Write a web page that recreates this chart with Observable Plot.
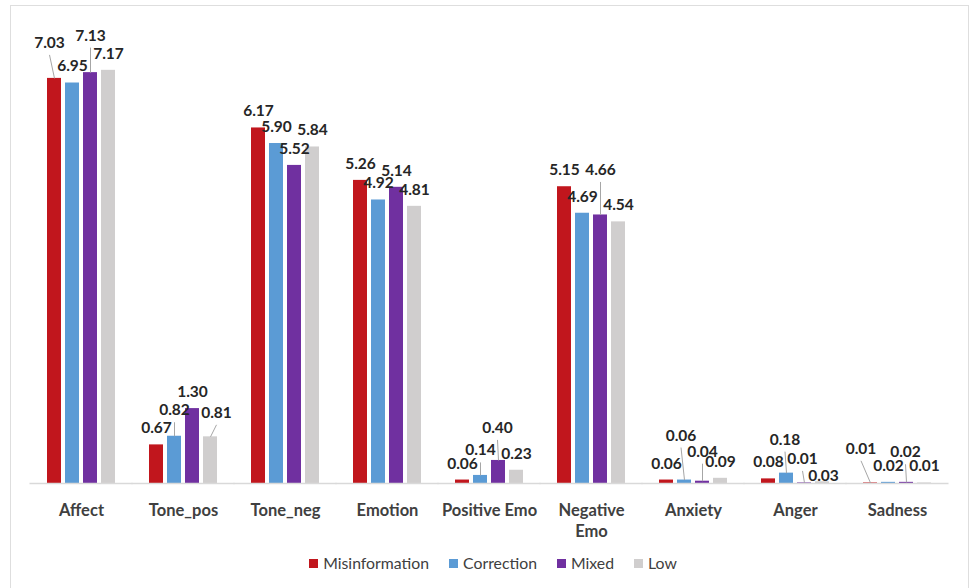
<!DOCTYPE html>
<html>
<head>
<meta charset="utf-8">
<script src="https://cdn.jsdelivr.net/npm/d3@7"></script>
<script src="https://cdn.jsdelivr.net/npm/@observablehq/plot@0.6"></script>
<style>
  html, body { margin: 0; padding: 0; background: #fff; }
  #wrap { position: relative; width: 970px; height: 588px; overflow: hidden; font-family: Lato, "Open Sans", sans-serif; }
  #frame { position: absolute; left: 10px; top: 4.5px; width: 959px; height: 620px; border: 1.5px solid #dedede; box-sizing: border-box; pointer-events: none; }
  #chart { position: absolute; left: 0; top: 0; }
  #legend { position: absolute; left: 0; top: 553px; width: 986px; display: flex; justify-content: center; gap: 20px; font-size: 15.8px; color: #404040; line-height: 20px; }
  #legend .item { display: flex; align-items: center; gap: 5px; }
  #legend .sw { width: 9px; height: 9px; display: inline-block; }
</style>
</head>
<body>
<div id="wrap">
  <div id="chart"></div>
  <div id="legend"></div>
  <div id="frame"></div>
</div>
<script>
// LIWC emotion categories and the four content groups
const categories = ["Affect", "Tone_pos", "Tone_neg", "Emotion", "Positive Emo", "Negative Emo", "Anxiety", "Anger", "Sadness"];
const categoryLabels = ["Affect", "Tone_pos", "Tone_neg", "Emotion", "Positive Emo", "Negative\nEmo", "Anxiety", "Anger", "Sadness"];
const series = ["Misinformation", "Correction", "Mixed", "Low"];
const colors = ["#C1161D", "#5B9BD5", "#7030A0", "#D0CECE"];

const misinformation = [7.03, 0.67, 6.17, 5.26, 0.06, 5.15, 0.06, 0.08, 0.01];
const correction     = [6.95, 0.82, 5.90, 4.92, 0.14, 4.69, 0.06, 0.18, 0.02];
const mixed          = [7.13, 1.30, 5.52, 5.14, 0.40, 4.66, 0.04, 0.01, 0.02];
const low            = [7.17, 0.81, 5.84, 4.81, 0.23, 4.54, 0.09, 0.03, 0.01];

const seriesValues = [misinformation, correction, mixed, low];
const rows = categories.flatMap((category, i) =>
  series.map((s, j) => ({category, series: s, value: seriesValues[j][i]}))
);

// Value labels sit just above their bar; crowded ones are nudged (pixels) and get a leader line
const lift = 16.5;
const labelNudges = [
  ["Affect", "Misinformation", -5, -19],
  ["Affect", "Mixed", 0, -20.5],
  ["Tone_pos", "Correction", 0, -9.5],
  ["Tone_pos", "Low", 6, -7.5],
  ["Positive Emo", "Correction", 0, -8.5],
  ["Positive Emo", "Mixed", -1, -16],
  ["Negative Emo", "Mixed", 0, -28.5],
  ["Anxiety", "Correction", -3.5, -28],
  ["Anxiety", "Mixed", 0, -13],
  ["Anger", "Correction", -1.5, -17],
  ["Anger", "Mixed", -2, -7.5],
  ["Anger", "Low", 1, 11],
  ["Sadness", "Misinformation", -9.5, -17.6],
  ["Sadness", "Mixed", -1, -13.6]
];
const key = (d) => d.category + "|" + d.series;
const nudgeOf = new Map(labelNudges.map(([c, s, dx, dy]) => [c + "|" + s, {dx, dy}]));
const leaderRows = rows.filter((d) => nudgeOf.has(key(d)) && nudgeOf.get(key(d)).dy < -5);

function placeLabels(index, scales, values, dimensions, context, next) {
  const X = Float64Array.from(values.x), Y = Float64Array.from(values.y);
  for (const i of index) {
    const n = nudgeOf.get(key(rows[i]));
    if (n) { X[i] += n.dx; Y[i] += n.dy; }
  }
  return next(index, scales, {...values, x: X, y: Y}, dimensions, context);
}

function placeLeaders(index, scales, values, dimensions, context, next) {
  const X2 = Float64Array.from(values.x2), Y2 = Float64Array.from(values.y2);
  for (const i of index) {
    const n = nudgeOf.get(key(leaderRows[i]));
    X2[i] += n.dx;
    Y2[i] += -lift + n.dy + 12;
  }
  return next(index, scales, {...values, x2: X2, y2: Y2}, dimensions, context);
}

const chart = Plot.plot({
  width: 970,
  height: 545,
  marginLeft: 28,
  marginRight: 19,
  marginTop: 22,
  marginBottom: 62,
  style: {fontFamily: "Lato, 'Open Sans', sans-serif", background: "transparent"},
  fx: {domain: categories, paddingInner: 0.31, paddingOuter: 0.165, axis: null, label: null},
  x: {domain: series, paddingInner: 0.25, paddingOuter: 0, axis: null},
  y: {domain: [0, 8], axis: null},
  color: {domain: series, range: colors},
  marks: [
    Plot.barY(rows, {fx: "category", x: "series", y: "value", fill: "series"}),
    Plot.ruleY([0], {stroke: "#d9d9d9", strokeWidth: 1.5, insetLeft: -16.5, insetRight: -16.5}),
    Plot.link(leaderRows, {
      fx: "category", x1: "series", x2: "series", y1: "value", y2: "value",
      stroke: "#a6a6a6", strokeWidth: 1, render: placeLeaders
    }),
    Plot.text(rows, {
      fx: "category", x: "series", y: "value",
      text: (d) => d.value.toFixed(2),
      dy: -lift, fontSize: 15.5, fontWeight: 700, fill: "#262626",
      render: placeLabels
    }),
    Plot.text(categories, {
      fx: (d) => d,
      text: (d, i) => categoryLabels[i],
      frameAnchor: "bottom", lineAnchor: "top", dy: 17.5,
      fontSize: 16.5, fontWeight: 700, fill: "#404040", lineHeight: 1.27
    })
  ]
});
document.getElementById("chart").append(chart);

// Legend
const legend = document.getElementById("legend");
series.forEach((s, i) => {
  const item = document.createElement("span");
  item.className = "item";
  const sw = document.createElement("span");
  sw.className = "sw";
  sw.style.background = colors[i];
  const label = document.createElement("span");
  label.textContent = s;
  item.append(sw, label);
  legend.append(item);
});
</script>
</body>
</html>
